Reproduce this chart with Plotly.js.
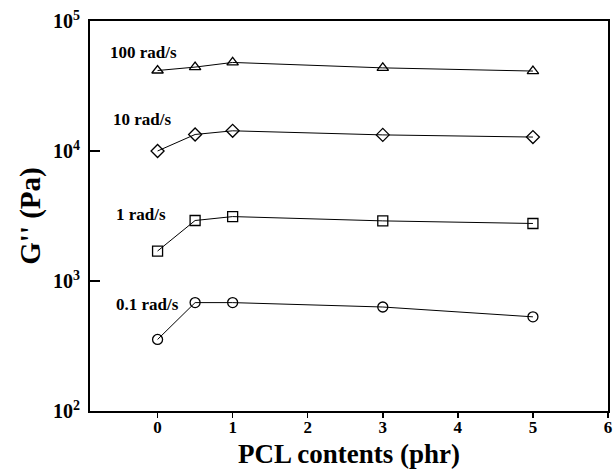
<!DOCTYPE html>
<html><head><meta charset="utf-8">
<script src="https://cdn.plot.ly/plotly-3.0.1.min.js"></script>
<style>html,body{margin:0;padding:0;background:#fff}#chart{width:615px;height:469px}</style>
</head><body><div id="chart"></div>
<script>
const pclContents = [0, 0.5, 1, 3, 5];
const seriesNames = ["100 rad/s", "10 rad/s", "1 rad/s", "0.1 rad/s"];
const g100 = [41600, 44200, 48000, 43600, 41200];
const g10 = [10000, 13400, 14300, 13300, 12800];
const g1 = [1700, 2920, 3130, 2900, 2770];
const g01 = [355, 682, 682, 631, 530];
const symbols = ["triangle-up-open", "diamond-open", "square-open", "circle-open"];
const yTickVals = [100, 1000, 10000, 100000];
const yTickText = ["10<sup>2</sup>", "10<sup>3</sup>", "10<sup>4</sup>", "10<sup>5</sup>"];
const xTickVals = [0, 1, 2, 3, 4, 5, 6];
const xTickText = ["0", "1", "2", "3", "4", "5", "6"];
const xTitle = "PCL contents (phr)";
const yTitle = "G'' (Pa)";

const allSeries = [g100, g10, g1, g01];
const traces = allSeries.map((ys, i) => ({
  x: pclContents, y: ys, name: seriesNames[i], type: 'scatter', mode: 'lines+markers',
  line: {color: '#000', width: 1},
  marker: {symbol: symbols[i], size: 10, color: '#000', line: {color: '#000', width: 1.3}},
  cliponaxis: false
}));

const W = 615, H = 469, M = {l: 90, r: 7, t: 21, b: 58};
const plotW = W - M.l - M.r, plotH = H - M.t - M.b;

// minor log ticks (2..9 per decade) drawn inside the left axis; shapes on a log axis take log10 coords
const minorVals = [];
for (let d = 2; d < 5; d++) for (let m = 2; m <= 9; m++) minorVals.push(m * Math.pow(10, d));
const shapes = minorVals.map(v => ({
  type: 'line', xref: 'paper', yref: 'y', x0: 0, x1: 6 / plotW, y0: Math.log10(v), y1: Math.log10(v),
  line: {color: '#000', width: 1.3}, layer: 'above'
}));

const fontSerif = 'Liberation Serif, Times New Roman, serif';
const annPos = [[-0.665, 4.756], [-0.62, 4.246], [-0.58, 3.508], [-0.58, 2.823]];
const annotations = seriesNames.map((n, i) => ({
  text: '<b>' + n + '</b>', x: annPos[i][0], y: annPos[i][1], xref: 'x', yref: 'y',
  xanchor: 'left', yanchor: 'middle', showarrow: false,
  font: {family: fontSerif, size: 17, color: '#000', weight: 'bold'}
}));
// x title, box centre at 453.5 px from the top
annotations.push({
  text: '<b>' + xTitle + '</b>', x: 0.5, y: -(453.5 - (H - M.b)) / plotH, xref: 'paper', yref: 'paper',
  xanchor: 'center', yanchor: 'middle', showarrow: false,
  font: {family: fontSerif, size: 27, color: '#000', weight: 'bold'}
});

const layout = {
  width: W, height: H,
  margin: M,
  paper_bgcolor: '#fff', plot_bgcolor: '#fff',
  showlegend: false,
  font: {family: fontSerif, color: '#000'},
  xaxis: {
    range: [-0.9, 6], tickmode: 'array', tickvals: xTickVals, ticktext: xTickText.map(t => '<b>' + t + '</b>'),
    ticks: 'outside', ticklen: 5, tickwidth: 1.5, tickcolor: '#000',
    showline: true, linewidth: 2, linecolor: '#000', mirror: true,
    showgrid: false, zeroline: false,
    ticklabelstandoff: -5,
    tickfont: {family: fontSerif, size: 17, color: '#000', weight: 'bold'}
  },
  yaxis: {
    type: 'log', range: [2, 5], tickmode: 'array', tickvals: yTickVals, ticktext: yTickText.map(t => '<b>' + t + '</b>'),
    ticks: 'inside', ticklen: 10, tickwidth: 1.6, tickcolor: '#000',
    showline: true, linewidth: 2, linecolor: '#000', mirror: true,
    showgrid: false, zeroline: false,
    ticklabelstandoff: 4,
    tickfont: {family: fontSerif, size: 20, color: '#000', weight: 'bold'},
    title: {text: '<b>' + yTitle + '</b>', font: {family: fontSerif, size: 29, color: '#000', weight: 'bold'}, standoff: 4}
  },
  shapes: shapes,
  annotations: annotations
};

Plotly.newPlot('chart', traces, layout, {displayModeBar: false, staticPlot: true});
</script>
</body></html>
